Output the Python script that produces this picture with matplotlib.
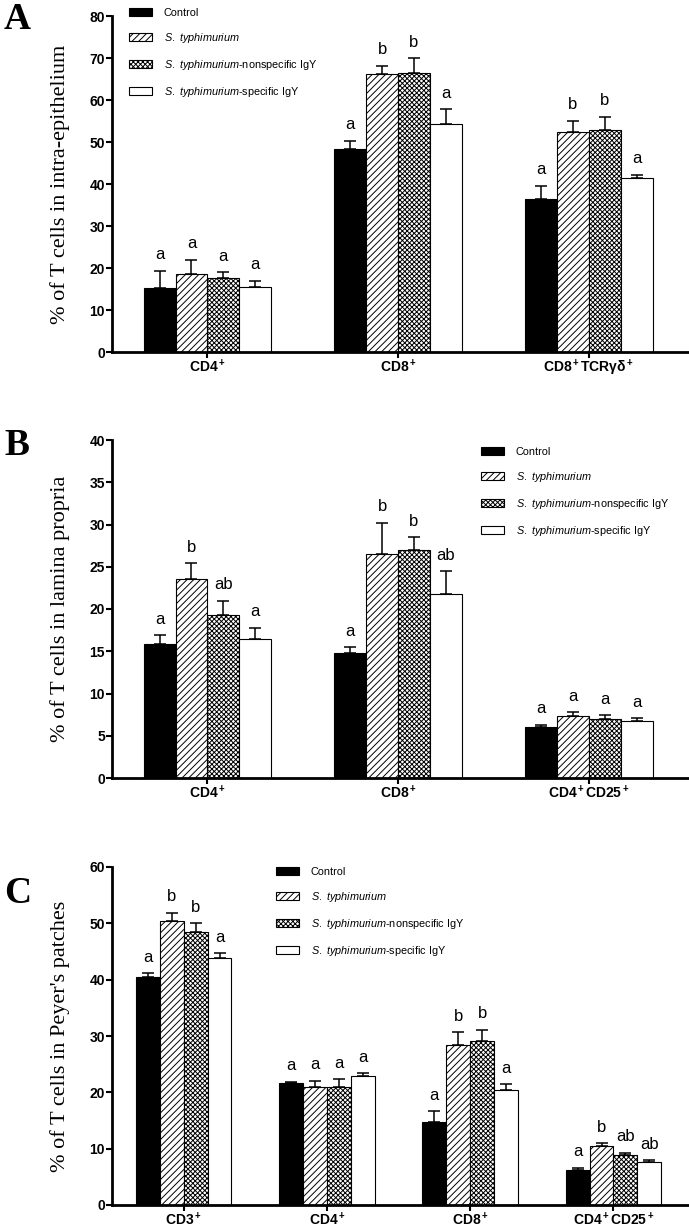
import matplotlib
matplotlib.use("Agg")
import matplotlib.pyplot as plt
import numpy as np
from matplotlib.patches import Patch

plt.rcParams['font.family'] = ['Liberation Sans', 'DejaVu Sans']
plt.rcParams['mathtext.fontset'] = 'custom'
plt.rcParams['mathtext.it'] = 'Liberation Sans:italic'
plt.rcParams['mathtext.rm'] = 'Liberation Sans'
plt.rcParams['mathtext.bf'] = 'Liberation Sans:bold'
plt.rcParams['hatch.linewidth'] = 0.7

# data
treatments = ["Control", r"$\it{S.}$ $\it{typhimurium}$",
              r"$\it{S.}$ $\it{typhimurium}$-nonspecific IgY",
              r"$\it{S.}$ $\it{typhimurium}$-specific IgY"]

a_groups = ["CD4$^{\\bf +}$", "CD8$^{\\bf +}$", "CD8$^{\\bf +}$TCR\u03b3\u03b4$^{\\bf +}$"]
a_means = [[15.2, 48.3, 36.4], [18.5, 66.2, 52.3], [17.7, 66.5, 52.8], [15.4, 54.2, 41.5]]
a_err = [[4.2, 2.0, 3.2], [3.5, 2.0, 2.8], [1.3, 3.4, 3.2], [1.6, 3.6, 0.7]]
a_sig = [["a", "a", "a"], ["a", "b", "b"], ["a", "b", "b"], ["a", "a", "a"]]

b_groups = ["CD4$^{\\bf +}$", "CD8$^{\\bf +}$", "CD4$^{\\bf +}$CD25$^{\\bf +}$"]
b_means = [[15.8, 14.8, 6.0], [23.5, 26.5, 7.3], [19.3, 27.0, 7.0], [16.4, 21.8, 6.8]]
b_err = [[1.1, 0.7, 0.3], [1.9, 3.7, 0.5], [1.7, 1.5, 0.4], [1.4, 2.7, 0.3]]
b_sig = [["a", "a", "a"], ["b", "b", "a"], ["ab", "b", "a"], ["a", "ab", "a"]]

c_groups = ["CD3$^{\\bf +}$", "CD4$^{\\bf +}$", "CD8$^{\\bf +}$", "CD4$^{\\bf +}$CD25$^{\\bf +}$"]
c_means = [[40.4, 21.7, 14.8, 6.2], [50.4, 21.0, 28.4, 10.4],
           [48.4, 21.0, 29.2, 8.9], [43.8, 22.9, 20.4, 7.6]]
c_err = [[0.7, 0.2, 1.8, 0.4], [1.5, 1.1, 2.3, 0.6],
         [1.6, 1.3, 1.9, 0.4], [0.9, 0.5, 1.0, 0.4]]
c_sig = [["a", "a", "a", "a"], ["b", "a", "b", "b"],
         ["b", "a", "b", "ab"], ["a", "a", "a", "ab"]]

fills = ["black", "white", "white", "white"]
hatches = [None, "/////", "xxxxxxx", None]

W, H = 689, 1227
fig = plt.figure(figsize=(W / 100, H / 100), dpi=100)


def panel(top, bottom, groups, means, errs, sigs, ymax, ystep, ylabel, letter,
          leg_x, leg_top, letter_y):
    ax = fig.add_axes([112 / W, 1 - bottom / H, (W - 113) / W, (bottom - top) / H])
    n = len(groups)
    x = np.arange(n)
    bw = 0.167
    for i in range(4):
        pos = x + (i - 1.5) * bw
        ax.bar(pos, means[i], bw, color=fills[i], edgecolor="black",
               hatch=hatches[i], linewidth=0.8, zorder=2)
        ax.errorbar(pos, means[i], yerr=[np.zeros(n), errs[i]], fmt="none",
                    ecolor="black", elinewidth=1.1, capsize=4.5, capthick=1.1, zorder=1)
        for p, m, e, s in zip(pos, means[i], errs[i], sigs[i]):
            ax.annotate(s, (p, m + e), xytext=(0, 6), textcoords="offset points",
                        ha="center", va="bottom", fontsize=12)
    ax.set_xlim(-0.5, n - 0.48)
    ax.set_ylim(0, ymax)
    ax.set_yticks(np.arange(0, ymax + 0.1, ystep))
    ax.set_xticks(x)
    ax.set_xticklabels(groups, fontsize=10, fontweight="bold")
    for lab in ax.get_yticklabels():
        lab.set_fontweight("bold")
        lab.set_fontsize(10)
    ax.spines["top"].set_visible(False)
    ax.spines["right"].set_visible(False)
    ax.spines["left"].set_linewidth(2)
    ax.spines["bottom"].set_linewidth(2)
    ax.tick_params(axis="y", length=4, width=1.5, pad=1)
    ax.tick_params(axis="x", length=4, width=1.5, pad=0)
    ax.set_ylabel(ylabel, family=["Liberation Serif"], fontsize=16)
    ax.yaxis.set_label_coords(-42 / (W - 113), 0.5)
    handles = [Patch(facecolor=fills[i], edgecolor="black", hatch=hatches[i], linewidth=0.8)
               for i in range(4)]
    ax.legend(handles, treatments, loc="upper left",
              bbox_to_anchor=(leg_x / W, 1 - leg_top / H), bbox_transform=fig.transFigure,
              frameon=False, fontsize=7.8, handlelength=2.1, handleheight=0.74,
              handletextpad=1.1, labelspacing=1.2, borderpad=0, borderaxespad=0)
    fig.text(4 / W, 1 - letter_y / H, letter, family=["Liberation Serif"],
             fontsize=27, fontweight="bold", va="top")
    return ax


panel(16, 352, a_groups, a_means, a_err, a_sig, 80, 10,
      "% of T cells in intra-epithelium", "A", 129, 8, 2)
panel(440, 778, b_groups, b_means, b_err, b_sig, 40, 5,
      "% of T cells in lamina propria", "B", 481, 447, 428)
panel(867, 1205, c_groups, c_means, c_err, c_sig, 60, 10,
      "% of T cells in Peyer's patches", "C", 276, 867, 876)

fig.savefig("out.png", dpi=100)
